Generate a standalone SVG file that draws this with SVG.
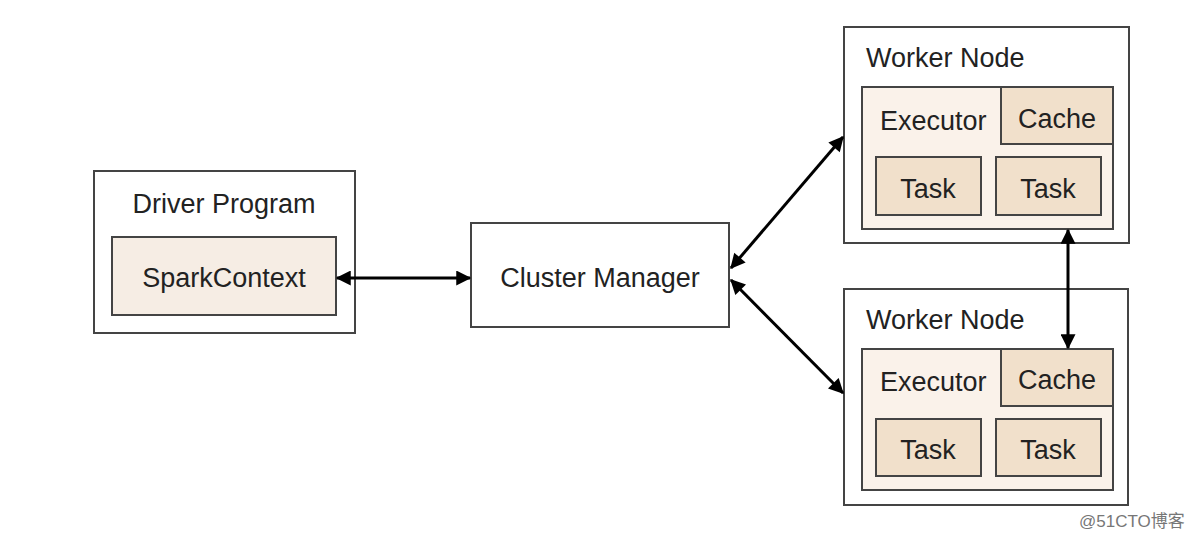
<svg xmlns="http://www.w3.org/2000/svg" width="1188" height="538" viewBox="0 0 1188 538">
<style>
.box{fill:#ffffff;stroke:#444;stroke-width:2}
.light{fill:#f6ede4;stroke:#444;stroke-width:2}
.exec{fill:#faf2ea;stroke:#444;stroke-width:2}
.dark{fill:#f1e0cb;stroke:#444;stroke-width:2}
.lbl{font-family:"Liberation Sans",Arial,sans-serif;font-size:27px;fill:#222}
.mid{text-anchor:middle}
.conn{stroke:#000;stroke-width:3;fill:none;marker-start:url(#ah);marker-end:url(#ah)}
</style>
<defs>
<marker id="ah" viewBox="0 0 12 12" refX="11" refY="6" markerWidth="16" markerHeight="15" markerUnits="userSpaceOnUse" orient="auto-start-reverse">
<path d="M0,0 L12,6 L0,12 z" fill="#000"/>
</marker>
</defs>
<rect width="1188" height="538" fill="#ffffff"/>
<g id="driver">
<rect class="box" x="94" y="171" width="261" height="162"/>
<text class="lbl mid" x="224" y="213">Driver Program</text>
<rect class="light" x="112" y="237" width="224" height="78"/>
<text class="lbl mid" x="224" y="287">SparkContext</text>
</g>
<g id="cluster-manager">
<rect class="box" x="471" y="223" width="258" height="104"/>
<text class="lbl mid" x="600" y="287">Cluster Manager</text>
</g>
<g id="worker1">
<rect class="box" x="844" y="27" width="285" height="216"/>
<text class="lbl" x="866" y="67">Worker Node</text>
<rect class="exec" x="862" y="87" width="251" height="142"/>
<text class="lbl" x="880" y="130">Executor</text>
<rect class="dark" x="1001" y="87" width="112" height="57"/>
<text class="lbl mid" x="1057" y="128">Cache</text>
<rect class="dark" x="876" y="157" width="105" height="58"/>
<text class="lbl mid" x="928" y="198">Task</text>
<rect class="dark" x="996" y="157" width="105" height="58"/>
<text class="lbl mid" x="1048" y="198">Task</text>
</g>
<g id="worker2">
<rect class="box" x="844" y="289" width="284" height="216"/>
<text class="lbl" x="866" y="329">Worker Node</text>
<rect class="exec" x="862" y="349" width="251" height="141"/>
<text class="lbl" x="880" y="391">Executor</text>
<rect class="dark" x="1001" y="349" width="112" height="57"/>
<text class="lbl mid" x="1057" y="389">Cache</text>
<rect class="dark" x="876" y="419" width="105" height="57"/>
<text class="lbl mid" x="928" y="459">Task</text>
<rect class="dark" x="996" y="419" width="105" height="57"/>
<text class="lbl mid" x="1048" y="459">Task</text>
</g>
<g id="connectors">
<line class="conn" x1="337" y1="278" x2="470" y2="278"/>
<line class="conn" x1="731" y1="268" x2="843" y2="137"/>
<line class="conn" x1="731" y1="280" x2="843" y2="393"/>
<line class="conn" x1="1068" y1="230" x2="1068" y2="348"/>
</g>
<text x="1079" y="527" font-family="'Liberation Sans','Noto Sans CJK SC',sans-serif" font-size="17" fill="#777">@51CTO博客</text>
</svg>
